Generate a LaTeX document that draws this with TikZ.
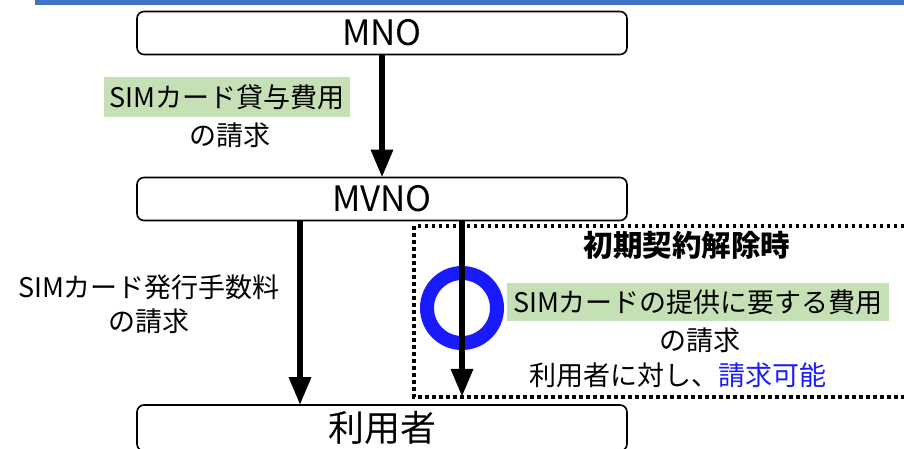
\documentclass[tikz,border=0pt]{standalone}
\usepackage{fontspec}
\setmainfont{Noto Sans CJK JP}
\usetikzlibrary{positioning, arrows}
\definecolor{topblue}{HTML}{4472C4}
\definecolor{notegreen}{HTML}{C5E0B4}
\definecolor{okblue}{HTML}{1A1AFF}

\begin{document}
\begin{tikzpicture}[x=1pt, y=-1pt, ->, >=triangle 45, line width=5.5pt,
    party/.style={draw, -, line width=1.6pt, rounded corners=7pt, minimum width=490pt, minimum height=43pt, font=\fontsize{35}{37}\selectfont},
    note/.style={font=\fontsize{27}{34}\selectfont, align=center, inner sep=0pt},
    costbox/.style={fill=notegreen, inner xsep=6pt, inner ysep=7pt}]
    \useasboundingbox (0,0) rectangle (904,448);
    \fill[topblue] (35,0) rectangle (904,5);
    % parties
    \node[party] (mno)  at (382,33)  {MNO};
    \node[party] (mvno) at (382,199) {MVNO};
    \node[party, minimum height=46pt, font=\fontsize{36}{38}\selectfont] (user) at (382,428) {利用者};
    % MNO -> MVNO
    \node[note, costbox] (lend) at (227,97) {SIMカード貸与費用};
    \node[note] (lendbill) at (230,135) {の請求};
    \draw (mno) -- (mvno);
    % MVNO -> user
    \coordinate (issuex) at (300,0);
    \node[note] (issue) at (149,304) {SIMカード発行手数料\\の請求};
    \draw (mvno.south -| issuex) -- (user.north -| issuex);
    % early cancellation
    \draw[-, line width=3.5pt, dash pattern=on 3.5pt off 3.5pt] (414,226) rectangle (908,397);
    \node[note, font=\bfseries\fontsize{29.5}{31}\selectfont] (cancel) at (687,245) {初期契約解除時};
    \node[note, costbox] (supply) at (698,302) {SIMカードの提供に要する費用};
    \node[note] (supplybill) at (700,340) {の請求};
    \node[note] (okay) at (678,375) {利用者に対し、\textcolor{okblue}{請求可能}};
    \coordinate (cancelend) at (462,396);
    \node[draw=okblue, line width=14pt, circle, minimum size=70pt, inner sep=0pt] (ring) at (462,308) {};
    \draw (mvno.south -| cancelend) -- (cancelend);
\end{tikzpicture}
\end{document}
